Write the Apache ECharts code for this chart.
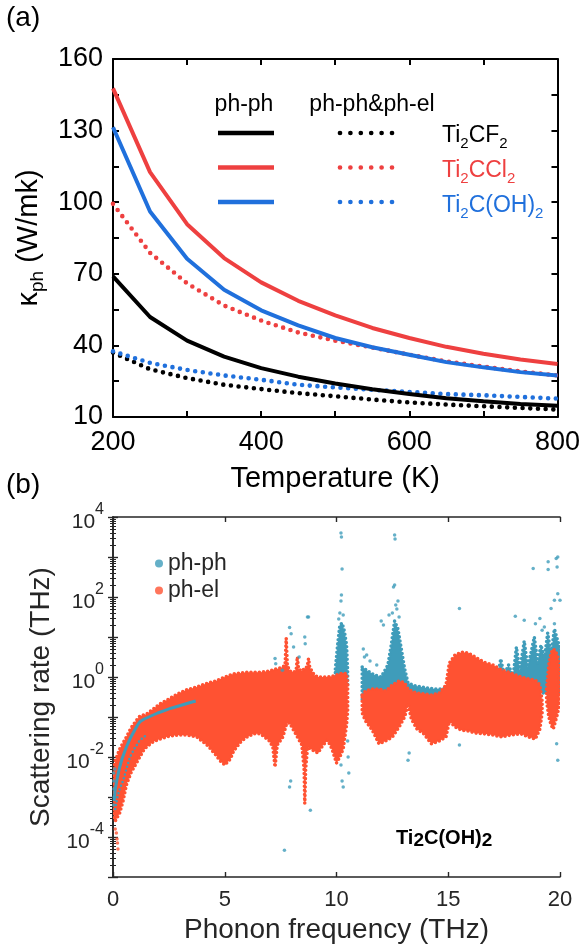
<!DOCTYPE html>
<html><head><meta charset="utf-8">
<script src="https://cdn.jsdelivr.net/npm/echarts@6/dist/echarts.min.js"></script>
<style>html,body{margin:0;padding:0;background:#fff}#c{width:583px;height:950px}</style>
</head><body><div id="c"></div>
<script>
// ---------- Panel (a): kappa_ph vs temperature ----------
const temps = [200,250,300,350,400,450,500,550,600,650,700,750,800];
const cf2_phph  = [68.9,51.9,42.0,35.3,30.5,26.9,24.0,21.6,19.6,17.9,16.6,15.4,14.7];
const cf2_all   = [37.0,30.0,26.3,23.5,21.7,20.0,18.7,17.3,16.1,15.2,14.5,13.8,13.1];
const ccl2_phph = [147.7,112.6,90.8,76.6,66.4,58.7,52.6,47.3,43.1,39.4,36.5,34.1,32.2];
const ccl2_all  = [99.3,78.8,66.0,56.7,50.4,45.4,42.0,39.1,36.1,33.3,31.1,29.1,27.4];
const oh2_phph  = [131.4,96.1,76.3,63.3,54.7,48.4,43.1,39.2,36.1,33.0,30.8,28.8,27.4];
const oh2_all   = [37.5,32.7,29.7,27.4,25.6,23.5,22.4,21.4,20.5,19.6,19.1,18.4,17.7];

// ---------- Panel (b): scattering rate (log10 THz) vs phonon frequency ----------
// dense ph-el cloud, upper / lower edges (log10 of rate)
const redA_f  = [0.03,0.1,0.2,0.3,0.45,0.6,0.8,1.0,1.2,1.35,1.5,1.8,2.1,2.5,2.9,3.3,3.75,4.25,4.6,4.8,5.0,5.25,5.4,5.75,6.0,6.3,6.6,7.0,7.15,7.25,7.35,7.6,7.7,7.75,7.8,7.9,8.1,8.2,8.25,8.3,8.45,8.55,8.58,8.62,8.7,8.75,8.8,9.0,9.17,9.4,9.6,9.8,10.0,10.15,10.3,10.45,10.5];
const redA_hi = [-2.4,-2.1,-1.95,-1.8,-1.65,-1.5,-1.28,-1.12,-0.98,-0.95,-0.93,-0.8,-0.67,-0.55,-0.42,-0.32,-0.25,-0.15,-0.1,-0.05,0.0,0.05,0.08,0.1,0.12,0.12,0.12,0.15,0.18,0.2,0.2,0.25,0.3,0.97,0.3,0.15,0.12,0.2,0.5,0.2,0.15,0.2,0.2,0.2,0.3,0.46,0.25,0.05,0.0,0.0,0.0,0.02,0.05,0.08,0.1,0.08,-0.2];
const redA_lo = [-3.4,-3.6,-3.5,-3.4,-3.1,-2.7,-2.4,-2.2,-2.0,-1.85,-1.75,-1.62,-1.55,-1.48,-1.45,-1.45,-1.5,-1.72,-1.95,-2.1,-2.2,-2.05,-1.85,-1.6,-1.5,-1.42,-1.42,-1.6,-1.75,-2.25,-1.7,-1.5,-1.3,-1.2,-1.15,-1.15,-1.35,-1.45,-1.5,-1.55,-1.7,-2.3,-3.16,-2.3,-1.8,-1.75,-1.78,-1.85,-1.9,-1.7,-1.58,-1.8,-2.15,-2.0,-1.8,-1.2,-0.85];
const redB_f  = [11.15,11.3,11.6,11.9,12.2,12.5,12.8,13.05,13.2,13.35,13.6,13.9,14.25,14.6,14.9,15.05,15.3,15.6,15.9,16.2,16.6,17.0,17.4,17.8,18.25,18.6,18.9,19.1,19.2];
const redB_hi = [-0.45,-0.35,-0.3,-0.3,-0.35,-0.2,-0.1,-0.15,-0.3,-0.35,-0.4,-0.42,-0.45,-0.4,-0.2,0.35,0.55,0.62,0.6,0.5,0.37,0.3,0.17,0.1,0.0,-0.05,-0.08,-0.2,-0.6];
const redB_lo = [-0.9,-1.1,-1.33,-1.67,-1.6,-1.5,-1.25,-1.0,-0.67,-1.05,-1.3,-1.42,-1.67,-1.6,-1.5,-1.1,-1.25,-1.33,-1.35,-1.4,-1.42,-1.45,-1.5,-1.45,-1.42,-1.5,-1.55,-1.3,-0.9];
const redC_f  = [19.4,19.5,19.6,19.7,19.8,19.9,19.97];
const redC_hi = [-0.3,0.3,0.6,0.7,0.65,0.5,0.2];
const redC_lo = [-0.6,-1.0,-1.2,-1.3,-1.1,-0.9,-0.6];
// dense ph-ph regions visible above the ph-el cloud
const blueT_f  = [9.95,10.05,10.15,10.25,10.35,10.45,10.5];
const blueT_hi = [0.2,0.8,1.3,1.35,1.15,0.8,0.1];
const blueT_lo = [-0.2,-0.2,-0.2,-0.2,-0.2,-0.2,-0.2];
const blueB_f  = [11.15,11.4,11.7,12.0,12.3,12.45,12.6,12.75,12.9,13.05,13.2,13.5,13.8,14.1,14.4,14.7,15.0,15.3];
const blueB_hi = [0.25,0.15,0.05,0.0,0.3,0.8,1.4,1.2,0.7,0.2,-0.15,-0.22,-0.25,-0.28,-0.3,-0.3,-0.25,-0.2];
const blueB_lo = [-0.6,-0.6,-0.6,-0.6,-0.6,-0.6,-0.6,-0.6,-0.6,-0.6,-0.6,-0.6,-0.6,-0.6,-0.6,-0.6,-0.6,-0.6];
const blueD_f  = [16.8,17.0,17.2,17.35,17.5,17.7,17.9,18.05,18.2,18.4,18.55,18.7,18.85,19.0,19.15,19.3,19.45,19.6,19.75,19.9,20.0];
const blueD_hi = [-0.2,0.2,0.0,0.45,0.05,0.3,0.0,0.75,0.15,0.9,0.25,0.6,1.0,0.35,0.8,0.45,1.1,0.55,1.2,0.9,0.7];
const blueD_lo = [-0.4,-0.4,-0.4,-0.4,-0.4,-0.4,-0.4,-0.4,-0.4,-0.4,-0.4,-0.4,-0.4,-0.4,-0.4,-0.4,-0.4,-0.4,-0.4,-0.4,-0.4];
// ph-ph branches inside the low-frequency cloud
const blueL1_f  = [0.05,0.1,0.2,0.3,0.4,0.5,0.6,0.7,0.8,0.9,1.0,1.1,1.2,1.4,1.6,1.8,2.0,2.3,2.6,2.9,3.2,3.5,3.7];
const blueL1_lg = [-3.1,-2.8,-2.5,-2.25,-2.05,-1.9,-1.75,-1.62,-1.5,-1.4,-1.3,-1.2,-1.12,-1.05,-1.0,-0.95,-0.9,-0.84,-0.78,-0.73,-0.68,-0.63,-0.6];
const blueL2_f  = [0.1,0.2,0.3,0.46,0.6,0.76,0.95,1.2,1.5];
const blueL2_lg = [-3.3,-3.0,-2.8,-2.58,-2.3,-2.0,-1.8,-1.58,-1.45];
// isolated points
const ppPts_f  = [10.2,10.22,10.25,10.22,10.2,10.15,10.3,10.1,12.6,12.62,12.6,12.55,12.65,12.7,12.5,12.35,12.8,12.0,12.1,12.75,11.2,11.25,11.5,11.8,11.35,13.2,13.25,15.5,15.5,18.0,18.4,18.8,18.9,19.1,19.2,19.3,19.47,19.47,19.6,19.75,19.75,19.83,19.87,19.9,19.9,20.0,7.25,7.28,7.9,7.97,8.7,8.75,8.58,8.6,8.08,8.33,7.58,7.67,7.9,7.95,8.83,10.2,10.25,10.3,10.5,10.52,10.55,19.9,19.85,0.03,0.03,0.04,0.05,0.03,0.08];
const ppPts_lg = [3.6,3.5,2.7,2.05,1.9,1.6,1.55,1.45,3.55,3.45,2.3,2.25,1.8,1.7,1.6,1.55,1.5,1.4,1.3,1.9,0.7,0.5,0.4,0.3,0.55,-2.08,-1.9,1.71,-1.7,1.52,1.42,2.71,1.33,1.46,1.17,1.25,2.88,2.69,1.71,1.33,1.92,2.96,2.75,3.0,2.08,1.92,0.46,0.33,1.24,1.08,1.5,1.5,1.0,0.83,0.75,0.5,0.17,-4.33,-2.75,-2.6,-3.33,-2.2,-2.6,-2.75,-1.6,-2.0,-2.4,-2.08,-1.67,-2.4,-2.6,-2.8,-3.0,-3.2,-2.3];
const pePts_f  = [0.2,0.22,0.18,0.1,0.15];
const pePts_lg = [-4.15,-4.3,-4.05,-3.8,-3.9];

const FONT = 'Liberation Sans, Arial, Helvetica, sans-serif';
const C_BLACK = '#000000', C_RED = '#EE4040', C_BLUE = '#2070DC';
const C_PP = '#3F9CBA', C_PE = '#FF5232', C_AX = '#262626';

const pairs = (xs, ys) => xs.map((x, i) => [x, ys[i]]);
const logPairs = (xs, ls) => xs.map((x, i) => [x, Math.pow(10, ls[i])]);

function lineSeries(name, ys, color, dotted) {
  return {
    type: 'line', name: name, xAxisIndex: 0, yAxisIndex: 0, data: pairs(temps, ys),
    symbol: 'none', silent: true, z: dotted ? 3 : 4,
    lineStyle: dotted ? { color: color, width: 4.6, type: [0, 7.7], cap: 'round' } : { color: color, width: 4 }
  };
}
function band(f, hi, lo, color, z) {
  return {
    type: 'custom', xAxisIndex: 2, yAxisIndex: 2, z: z, silent: true, clip: true,
    data: [[f[0], Math.pow(10, hi[0])]],
    renderItem: function (params, api) {
      const pts = [];
      for (let i = 0; i < f.length; i++) pts.push(api.coord([f[i], Math.pow(10, hi[i])]));
      for (let i = f.length - 1; i >= 0; i--) pts.push(api.coord([f[i], Math.pow(10, lo[i])]));
      return { type: 'polygon', shape: { points: pts },
        style: { fill: color, stroke: color, lineWidth: 3.6, lineDash: [0, 4.2], lineCap: 'round', lineJoin: 'round' } };
    }
  };
}

const axA = { lineStyle: { color: C_BLACK, width: 2 } };
const tickA = { inside: true, length: 6, lineStyle: { color: C_BLACK, width: 2 } };
const minA = { show: true, splitNumber: 2, length: 6, lineStyle: { color: C_BLACK, width: 2 } };
const axB = { lineStyle: { color: C_AX, width: 1.6 } };
const tickB = { inside: true, length: 5, lineStyle: { color: C_AX, width: 1.4 } };
const minB = { show: true, splitNumber: 9, length: 3, lineStyle: { color: C_AX, width: 1 } };
const subRich = (color, bs, ss) => ({
  b: { fontSize: bs, lineHeight: 30, verticalAlign: 'middle', fill: color, fontFamily: FONT },
  s: { fontSize: ss, lineHeight: 18, verticalAlign: 'bottom', fill: color, fontFamily: FONT } });

const chart = echarts.init(document.getElementById('c'), null, { renderer: 'canvas' });
chart.setOption({
  animation: false,
  backgroundColor: '#fff',
  textStyle: { fontFamily: FONT },
  grid: [
    { left: 113, top: 59, width: 446, height: 358 },
    { left: 113, top: 517, width: 447, height: 360 }
  ],
  xAxis: [
    { gridIndex: 0, type: 'value', min: 200, max: 800, interval: 200, axisLine: axA, axisTick: tickA, minorTick: minA,
      splitLine: { show: false },
      axisLabel: { fontSize: 27, color: C_BLACK, margin: 12, fontFamily: FONT },
      name: 'Temperature (K)', nameLocation: 'middle', nameGap: 47,
      nameTextStyle: { fontSize: 29, color: C_BLACK, fontFamily: FONT } },
    { gridIndex: 0, type: 'value', position: 'top', min: 200, max: 800, interval: 200, axisLine: axA, axisTick: tickA, minorTick: minA,
      splitLine: { show: false }, axisLabel: { show: false } },
    { gridIndex: 1, type: 'value', min: 0, max: 20, interval: 5, axisLine: axB, axisTick: tickB,
      splitLine: { show: false },
      axisLabel: { fontSize: 22, color: C_AX, margin: 12, fontFamily: FONT },
      name: 'Phonon frequency (THz)', nameLocation: 'middle', nameGap: 39,
      nameTextStyle: { fontSize: 28, color: C_AX, fontFamily: FONT } },
    { gridIndex: 1, type: 'value', position: 'top', min: 0, max: 20, interval: 5, axisLine: axB, axisTick: tickB,
      splitLine: { show: false }, axisLabel: { show: false } }
  ],
  yAxis: [
    { gridIndex: 0, type: 'value', min: 10, max: 160, interval: 30, axisLine: axA, axisTick: tickA, minorTick: minA,
      splitLine: { show: false },
      axisLabel: { fontSize: 27, color: C_BLACK, margin: 10, fontFamily: FONT },
      name: '{k|κ}{s|ph}{k| (W/mk)}', nameLocation: 'middle', nameGap: 58, nameRotate: 90,
      nameTextStyle: { color: C_BLACK, fontFamily: FONT, rich: {
        k: { fontSize: 29, lineHeight: 36, verticalAlign: 'middle', color: C_BLACK, fontFamily: FONT },
        s: { fontSize: 19, lineHeight: 22, verticalAlign: 'bottom', color: C_BLACK, fontFamily: FONT } } } },
    { gridIndex: 0, type: 'value', position: 'right', min: 10, max: 160, interval: 30, axisLine: axA, axisTick: tickA, minorTick: minA,
      splitLine: { show: false }, axisLabel: { show: false } },
    { gridIndex: 1, type: 'log', logBase: 10, min: 1e-5, max: 1e4, splitNumber: 9, axisLine: axB, axisTick: tickB, minorTick: minB,
      splitLine: { show: false }, minorSplitLine: { show: false },
      axisLabel: { margin: 9, fontFamily: FONT,
        formatter: function (v) { const e = Math.round(Math.log10(v)); if (e % 2 !== 0) return ''; return '{sp| }{b|10}{s|' + e + '}'; },
        rich: {
          sp: { fontSize: 1, lineHeight: 31 },
          b: { fontSize: 21, lineHeight: 21, verticalAlign: 'bottom', color: C_AX, fontFamily: FONT },
          s: { fontSize: 16, lineHeight: 16, verticalAlign: 'top', color: C_AX, fontFamily: FONT } } },
      name: 'Scattering rate (THz)', nameLocation: 'middle', nameGap: 51, nameRotate: 90,
      nameTextStyle: { fontSize: 28, color: C_AX, fontFamily: FONT } },
    { gridIndex: 1, type: 'log', logBase: 10, position: 'right', min: 1e-5, max: 1e4, splitNumber: 9, axisLine: axB, axisTick: tickB, minorTick: minB,
      splitLine: { show: false }, axisLabel: { show: false } }
  ],
  legend: {
    data: [{ name: 'ph-ph', icon: 'circle' }, { name: 'ph-el', icon: 'circle' }],
    orient: 'vertical', left: 150, top: 547, itemWidth: 8, itemHeight: 8, itemGap: 4, selectedMode: false,
    textStyle: { fontSize: 23, color: C_AX, fontFamily: FONT }
  },
  graphic: [
    { type: 'text', left: 6, top: 4, style: { text: '(a)', fontSize: 28, fill: C_BLACK, fontFamily: FONT } },
    { type: 'text', left: 6, top: 471, style: { text: '(b)', fontSize: 28, fill: C_BLACK, fontFamily: FONT } },
    { type: 'text', x: 244, y: 105, style: { text: 'ph-ph', fontSize: 23, fill: C_BLACK, align: 'center', verticalAlign: 'middle', fontFamily: FONT } },
    { type: 'text', x: 372, y: 105, style: { text: 'ph-ph&ph-el', fontSize: 23, fill: C_BLACK, align: 'center', verticalAlign: 'middle', fontFamily: FONT } },
    { type: 'line', shape: { x1: 218, y1: 133, x2: 274, y2: 133 }, style: { stroke: C_BLACK, lineWidth: 4.5 } },
    { type: 'line', shape: { x1: 218, y1: 167.5, x2: 274, y2: 167.5 }, style: { stroke: C_RED, lineWidth: 4.5 } },
    { type: 'line', shape: { x1: 218, y1: 202, x2: 274, y2: 202 }, style: { stroke: C_BLUE, lineWidth: 4.5 } },
    { type: 'line', shape: { x1: 340, y1: 133, x2: 392, y2: 133 }, style: { stroke: C_BLACK, lineWidth: 4.7, lineDash: [0, 10.4], lineCap: 'round' } },
    { type: 'line', shape: { x1: 340, y1: 167.5, x2: 392, y2: 167.5 }, style: { stroke: C_RED, lineWidth: 4.7, lineDash: [0, 10.4], lineCap: 'round' } },
    { type: 'line', shape: { x1: 340, y1: 202, x2: 392, y2: 202 }, style: { stroke: C_BLUE, lineWidth: 4.7, lineDash: [0, 10.4], lineCap: 'round' } },
    { type: 'text', x: 442, y: 136, style: { text: '{b|Ti}{s|2}{b|CF}{s|2}', verticalAlign: 'middle', rich: subRich(C_BLACK, 23, 15) } },
    { type: 'text', x: 442, y: 171, style: { text: '{b|Ti}{s|2}{b|CCl}{s|2}', verticalAlign: 'middle', rich: subRich(C_RED, 23, 15) } },
    { type: 'text', x: 442, y: 206, style: { text: '{b|Ti}{s|2}{b|C(OH)}{s|2}', verticalAlign: 'middle', rich: subRich(C_BLUE, 23, 15) } },
    { type: 'text', x: 396, y: 838, z: 100, style: { text: '{b|Ti}{s|2}{b|C(OH)}{s|2}', verticalAlign: 'middle',
      rich: { b: { fontSize: 20, fontWeight: 'bold', lineHeight: 24, verticalAlign: 'middle', fill: C_BLACK, fontFamily: FONT },
              s: { fontSize: 19, fontWeight: 'bold', lineHeight: 18, verticalAlign: 'bottom', fill: C_BLACK, fontFamily: FONT } } } }
  ],
  series: [
    lineSeries('Ti2CF2 ph-ph', cf2_phph, C_BLACK, false),
    lineSeries('Ti2CF2 ph-ph&ph-el', cf2_all, C_BLACK, true),
    lineSeries('Ti2CCl2 ph-ph', ccl2_phph, C_RED, false),
    lineSeries('Ti2CCl2 ph-ph&ph-el', ccl2_all, C_RED, true),
    lineSeries('Ti2C(OH)2 ph-ph', oh2_phph, C_BLUE, false),
    lineSeries('Ti2C(OH)2 ph-ph&ph-el', oh2_all, C_BLUE, true),
    band(blueT_f, blueT_hi, blueT_lo, C_PP, 2),
    band(blueB_f, blueB_hi, blueB_lo, C_PP, 2),
    band(blueD_f, blueD_hi, blueD_lo, C_PP, 2),
    band(redA_f, redA_hi, redA_lo, C_PE, 3),
    band(redB_f, redB_hi, redB_lo, C_PE, 3),
    band(redC_f, redC_hi, redC_lo, C_PE, 3),
    { type: 'line', xAxisIndex: 2, yAxisIndex: 2, data: logPairs(blueL1_f, blueL1_lg), symbol: 'none', silent: true, z: 4,
      lineStyle: { color: C_PP, width: 3 } },
    { type: 'line', xAxisIndex: 2, yAxisIndex: 2, data: logPairs(blueL2_f, blueL2_lg), symbol: 'none', silent: true, z: 4,
      lineStyle: { color: C_PP, width: 2.5, type: [0, 4], cap: 'round' } },
    { type: 'scatter', name: 'ph-ph', xAxisIndex: 2, yAxisIndex: 2, data: logPairs(ppPts_f, ppPts_lg), symbolSize: 3.5, silent: true, z: 5,
      itemStyle: { color: C_PP } },
    { type: 'scatter', name: 'ph-el', xAxisIndex: 2, yAxisIndex: 2, data: logPairs(pePts_f, pePts_lg), symbolSize: 3.5, silent: true, z: 5,
      itemStyle: { color: C_PE } }
  ]
});
</script>
</body></html>
